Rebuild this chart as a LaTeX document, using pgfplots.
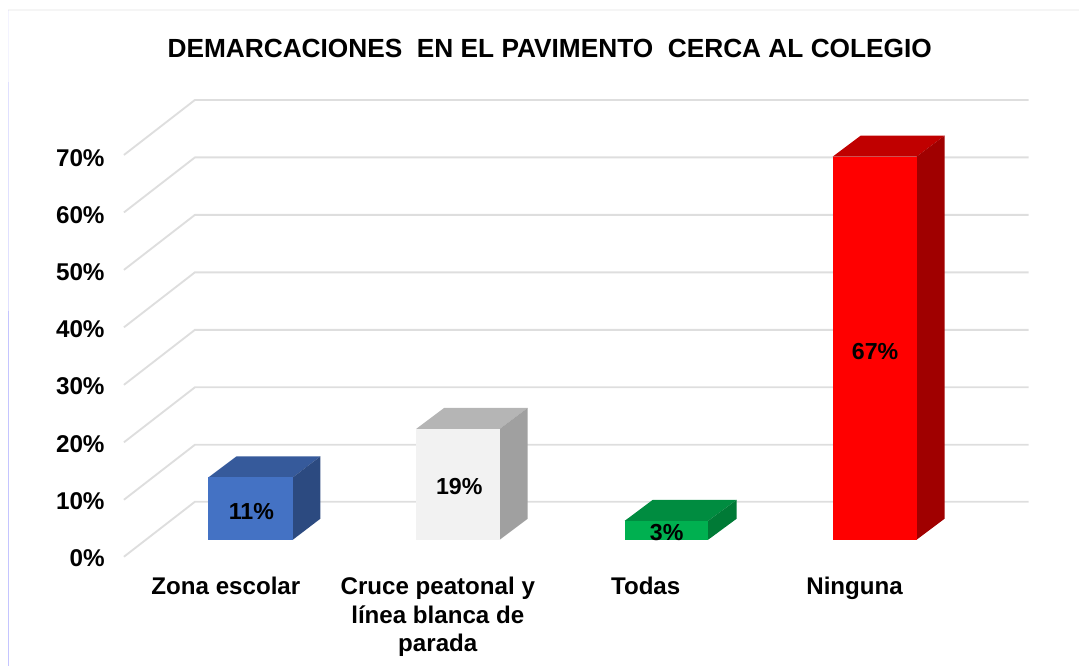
\documentclass[border=0pt]{standalone}
\usepackage{pgfplots}
\pgfplotsset{compat=1.18}
\usepackage{fontspec}
\setmainfont{Liberation Sans}
\definecolor{gridc}{HTML}{DEDEDE}
\definecolor{blueF}{HTML}{4472C4}\definecolor{blueT}{HTML}{365A9B}\definecolor{blueS}{HTML}{2C4A80}
\definecolor{grayF}{HTML}{F2F2F2}\definecolor{grayT}{HTML}{B5B5B5}\definecolor{grayS}{HTML}{A0A0A0}
\definecolor{greenF}{HTML}{00B050}\definecolor{greenT}{HTML}{008C40}\definecolor{greenS}{HTML}{007A36}
\definecolor{redF}{HTML}{FF0000}\definecolor{redT}{HTML}{C00000}\definecolor{redS}{HTML}{A00000}
\begin{document}
\begin{tikzpicture}
\begin{axis}[
  scale only axis, width=810pt, height=499.5pt,
  xmin=0, xmax=1080, ymin=-22.03, ymax=94.41,
  axis line style={draw=none}, tick style={draw=none},
  clip=false,
  xtick={226,438,646,855},
  xticklabels={{Zona escolar},{Cruce peatonal y\\línea blanca de\\parada},{Todas},{Ninguna}},
  xticklabel style={font=\bfseries\fontsize{18.1}{21.6}\selectfont, align=center, anchor=north, yshift=70.25pt},
  ytick={-2.97,7.03,17.03,27.03,37.03,47.03,57.03,67.03},
  yticklabels={0\%,10\%,20\%,30\%,40\%,50\%,60\%,70\%},
  yticklabel style={font=\bfseries\fontsize{18.2}{21}\selectfont, anchor=east, xshift=82pt, yshift=-1pt},
]
% frame
\addplot[color=blue!60!white, opacity=.08, line width=1.2pt, forget plot] coordinates {(8.5,80)(8.5,92.66)};
\addplot[color=blue!60!white, opacity=.2, line width=1.2pt, forget plot] coordinates {(8.5,40)(8.5,80)};
\addplot[color=blue!60!white, opacity=.38, line width=1.2pt, forget plot] coordinates {(8.5,-22.03)(8.5,40)};
\addplot[color=gray, opacity=.08, line width=.8pt, forget plot] coordinates {(8.5,92.66)(1080,92.66)};
% wall and floor grid
\addplot[gridc, line width=1.4pt] coordinates {(124,67.30)(195,76.92)(1029,76.92)};
\addplot[gridc, line width=1.4pt] coordinates {(124,57.25)(195,66.87)(1029,66.87)};
\addplot[gridc, line width=1.4pt] coordinates {(124,47.20)(195,56.82)(1029,56.82)};
\addplot[gridc, line width=1.4pt] coordinates {(124,37.15)(195,46.77)(1029,46.77)};
\addplot[gridc, line width=1.4pt] coordinates {(124,27.09)(195,36.71)(1029,36.71)};
\addplot[gridc, line width=1.4pt] coordinates {(124,17.04)(195,26.66)(1029,26.66)};
\addplot[gridc, line width=1.4pt] coordinates {(124,6.99)(195,16.61)(1029,16.61)};
\addplot[gridc, line width=1.4pt] coordinates {(124,-2.98)(195,6.64)(1029,6.64)};
% Zona escolar
\addplot[fill=blueT, draw=none] coordinates {(208.5,10.9)(236.5,14.57)(320.5,14.57)(293,10.9)} -- cycle;
\addplot[fill=blueS, draw=none] coordinates {(293,0)(320.5,3.67)(320.5,14.57)(293,10.9)} -- cycle;
\addplot[ybar, bar shift=0pt, bar width=84.5, fill=blueF, draw=none] coordinates {(250.75,10.9)};
% Cruce peatonal
\addplot[fill=grayT, draw=none] coordinates {(416.5,19.4)(444.5,23.07)(528,23.07)(500,19.4)} -- cycle;
\addplot[fill=grayS, draw=none] coordinates {(500,0)(528,3.67)(528,23.07)(500,19.4)} -- cycle;
\addplot[ybar, bar shift=0pt, bar width=83.5, fill=grayF, draw=none] coordinates {(458.25,19.4)};
% Todas
\addplot[fill=greenT, draw=none] coordinates {(625,3.3)(653,6.97)(737,6.97)(708.5,3.3)} -- cycle;
\addplot[fill=greenS, draw=none] coordinates {(708.5,0)(737,3.67)(737,6.97)(708.5,3.3)} -- cycle;
\addplot[ybar, bar shift=0pt, bar width=83.5, fill=greenF, draw=none] coordinates {(666.75,3.3)};
% Ninguna
\addplot[fill=redT, draw=none] coordinates {(833,67)(861,70.67)(945,70.67)(917,67)} -- cycle;
\addplot[fill=redS, draw=none] coordinates {(917,0)(945,3.67)(945,70.67)(917,67)} -- cycle;
\addplot[ybar, bar shift=0pt, bar width=84, fill=redF, draw=none] coordinates {(875,67)};
% labels
\begin{scope}[every node/.style={font=\bfseries\fontsize{17.4}{20}\selectfont, inner sep=0pt, anchor=center}]
\node at (axis cs:251.5,5.0) {11\%};
\node at (axis cs:459.5,9.3) {19\%};
\node at (axis cs:667,1.2) {3\%};
\node at (axis cs:875.5,32.9) {67\%};
\end{scope}
\node[font=\bfseries\fontsize{19.7}{23}\selectfont, inner sep=0pt, anchor=center] at (axis cs:550,86) {DEMARCACIONES\ \ EN EL PAVIMENTO\ \ CERCA AL COLEGIO};
\end{axis}
\end{tikzpicture}
\end{document}
